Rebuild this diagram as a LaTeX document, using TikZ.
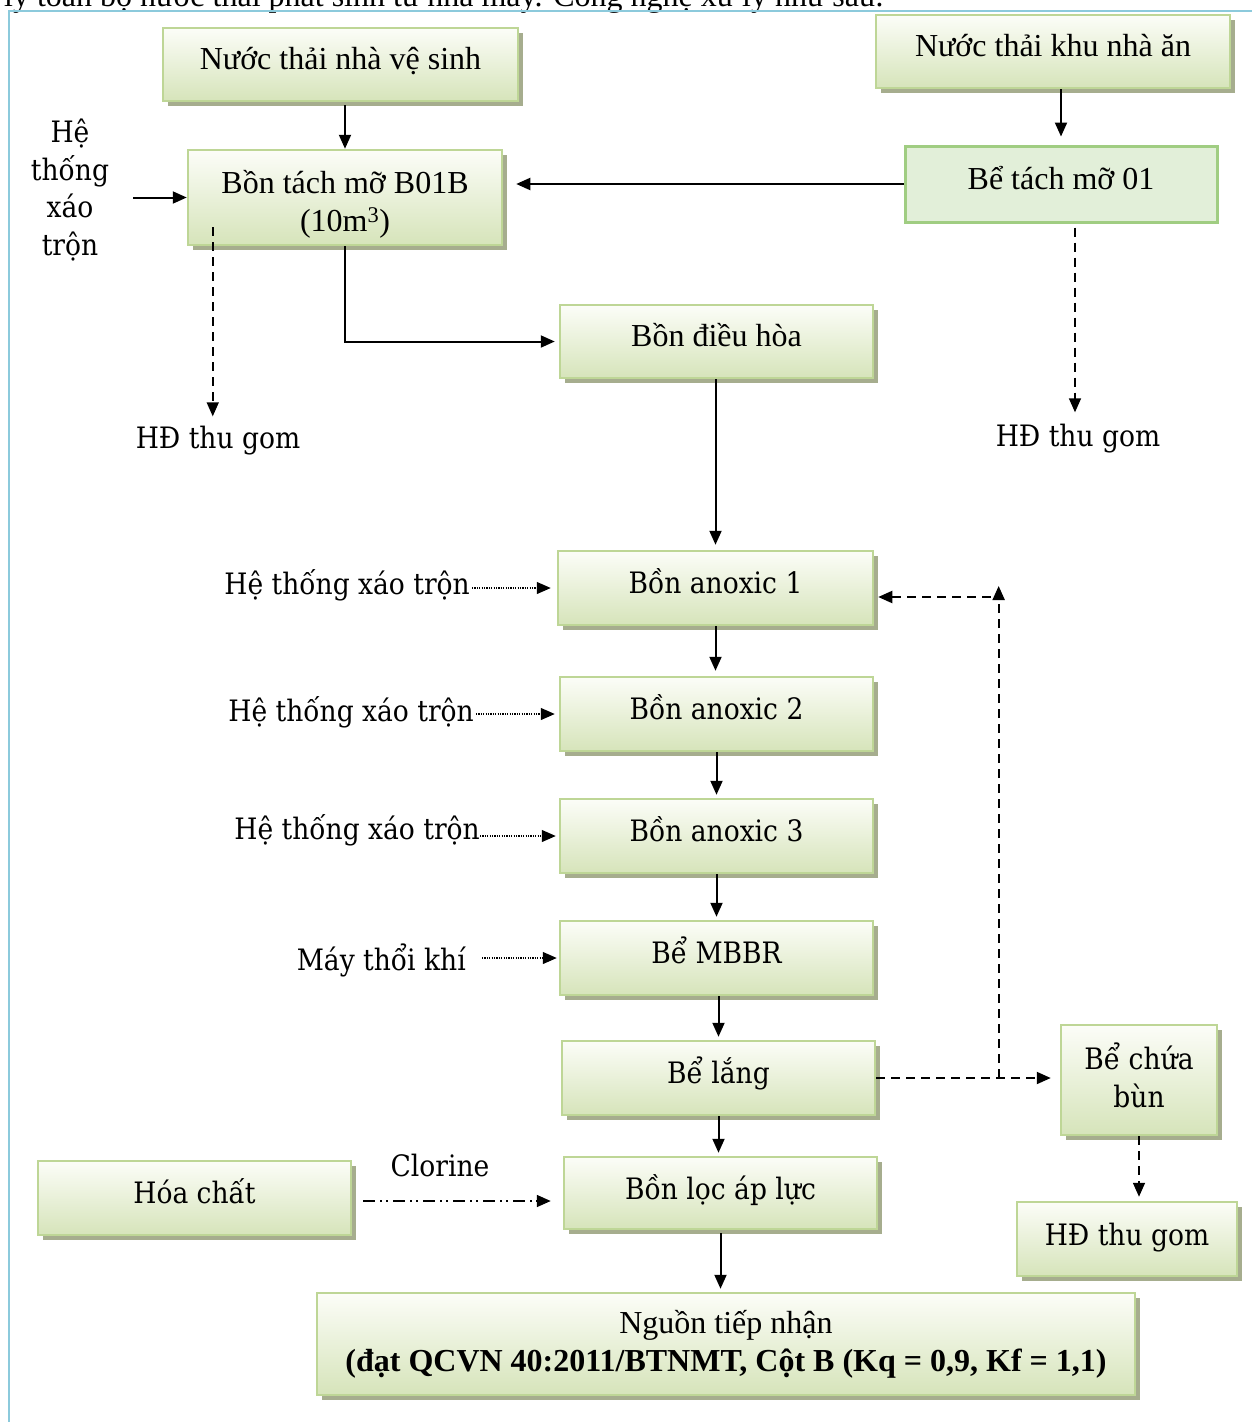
\documentclass[tikz,border=0pt]{standalone}
\usepackage{fontspec}
\setmainfont{Liberation Serif}
\newfontfamily\camfont{DejaVu Serif Condensed}
\usetikzlibrary{arrows.meta,shadows,calc}
\definecolor{framec}{RGB}{140,202,220}
\definecolor{boxline}{RGB}{190,214,150}
\definecolor{boxtop}{RGB}{252,253,248}
\definecolor{boxbot}{RGB}{214,228,186}
\definecolor{shadowc}{RGB}{166,173,142}
\definecolor{flatfill}{RGB}{226,239,217}
\definecolor{flatline}{RGB}{160,205,130}
\begin{document}
\begin{tikzpicture}[x=1pt,y=-1pt,
  tnr/.style={font=\fontsize{32}{38}\selectfont},
  cam/.style={font=\camfont\fontsize{29.5}{37.5}\selectfont},
  boxbase/.style={draw=boxline,line width=2.5pt,top color=boxtop,bottom color=boxbot,
    drop shadow={shadow xshift=5pt,shadow yshift=-5pt,fill=shadowc,opacity=1},
    inner sep=0pt,align=center},
  box/.style={boxbase,text height=20pt,text depth=10pt},
  flatbox/.style={draw=flatline,line width=3pt,fill=flatfill,inner sep=0pt,align=center,
    text height=20pt,text depth=10pt},
  lbl/.style={inner sep=0pt,align=center},
  tip/.style={-{Triangle[length=14pt,width=12pt]}},
  flow/.style={tip,line width=2pt},
  dflow/.style={tip,line width=2pt,dash pattern=on 9pt off 6pt},
  dotflow/.style={tip,line width=1.2pt,dash pattern=on 1.2pt off 1.2pt},
  ddflow/.style={tip,line width=1.6pt,dash pattern=on 12pt off 5pt on 2pt off 4pt on 2pt off 5pt},
]
\useasboundingbox (0,0) rectangle (1252,1422);
\clip (0,0) rectangle (1252,1422);

% running text above the frame
\node[tnr,anchor=base west,inner sep=0pt] (intro) at (4,6)
  {ly toàn bộ nước thải phát sinh từ nhà máy. Công nghệ xử lý như sau:};

% frame
\draw[framec,line width=2.5pt] (9,1430) -- (9,11) -- (1260,11);

% process boxes
\node[box,tnr,minimum width=355pt,minimum height=73pt] (n1) at (340.5,64.5) {Nước thải nhà vệ sinh};
\node[box,tnr,minimum width=354pt,minimum height=73pt] (n2) at (1053,51.5) {Nước thải khu nhà ăn};
\node[boxbase,tnr,minimum width=314pt,minimum height=95pt] (n3) at (345,197.5)
  {\rule{0pt}{36pt}Bồn tách mỡ B01B\\(10m\textsuperscript{3})};
\node[flatbox,tnr,minimum width=312pt,minimum height=76pt] (n4) at (1061,184) {Bể tách mỡ 01};
\node[box,tnr,minimum width=313pt,minimum height=73pt] (n5) at (716.5,341.5) {Bồn điều hòa};
\node[box,cam,minimum width=315pt,minimum height=74pt] (n6) at (715.5,588) {Bồn anoxic 1};
\node[box,cam,minimum width=313pt,minimum height=74pt] (n7) at (716.5,714) {Bồn anoxic 2};
\node[box,cam,minimum width=313pt,minimum height=74pt] (n8) at (716.5,836) {Bồn anoxic 3};
\node[box,cam,minimum width=313pt,minimum height=74pt] (n9) at (716.5,958) {Bể MBBR};
\node[box,cam,minimum width=313pt,minimum height=74pt] (n10) at (718.5,1078) {Bể lắng};
\node[box,cam,minimum width=313pt,minimum height=72pt,text height=22pt] (n11) at (720.5,1193) {Bồn lọc áp lực};
\node[box,cam,minimum width=313pt,minimum height=74pt] (n12) at (194.5,1198) {Hóa chất};
\node[boxbase,cam,minimum width=156pt,minimum height=110pt] (n13) at (1139,1080)
  {Bể chứa\\bùn\rule[-10pt]{0pt}{10pt}};
\node[box,cam,minimum width=220pt,minimum height=74pt,text height=22pt] (n14) at (1127,1239) {HĐ thu gom};
\node[boxbase,tnr,minimum width=818pt,minimum height=102pt] (n15) at (726,1344)
  {Nguồn tiếp nhận\\\textbf{(đạt QCVN 40:2011/BTNMT, Cột B (Kq = 0,9, Kf = 1,1)}};

% free labels
\node[lbl,cam] (hx0) at (70,190) {Hệ\\thống\\xáo\\trộn};
\node[lbl,cam] (hd1) at (218,441) {HĐ thu gom};
\node[lbl,cam] (hd2) at (1078,439) {HĐ thu gom};
\node[lbl,cam,anchor=east] (hx1) at (470,585) {Hệ thống xáo trộn};
\node[lbl,cam,anchor=east] (hx2) at (474,712) {Hệ thống xáo trộn};
\node[lbl,cam,anchor=east] (hx3) at (480,830) {Hệ thống xáo trộn};
\node[lbl,cam,anchor=east] (mtk) at (466,960) {Máy thổi khí};
\node[lbl,cam] (clo) at (440,1165) {Clorine};

% main flow
\draw[flow,shorten <=3pt] (n1.south -| n3.north) -- (n3.north);
\draw[flow,shorten >=8pt] (n2.south -| n4.north) -- (n4.north);
\draw[flow,shorten >=13pt] (n4.west) -- (n4.west -| n3.east);
\draw[flow,shorten <=24pt] (hx0.east |- n3.west) -- (n3.west);
\draw[flow,shorten >=4pt] (n3.south) |- (n5.west);
\draw[flow,shorten >=5pt] (n5.south -| n6.north) -- (n6.north);
\draw[flow,shorten >=5pt] (n6.south) -- (n6.south |- n7.north);
\draw[flow,shorten >=3pt] (n7.south) -- (n7.south |- n8.north);
\draw[flow,shorten >=3pt] (n8.south) -- (n8.south |- n9.north);
\draw[flow,shorten >=3pt] (n9.south -| n10.north) -- (n10.north);
\draw[flow,shorten >=3pt] (n10.south) -- (n10.south |- n11.north);
\draw[flow,shorten <=3pt,shorten >=3pt] (n11.south) -- (n11.south |- n15.north);

% grease to collection
\coordinate (g1) at ($(n3.south west)+(26,-19)$);
\draw[dflow,line width=1.5pt,shorten >=10pt] (g1) -- (g1 |- hd1.north);
\coordinate (g2) at ([xshift=14pt]n4.south);
\draw[dflow,line width=1.5pt,shorten <=4pt,shorten >=12pt] (g2) -- (g2 |- hd2.north);

% mixers and blower
\draw[dotflow,shorten <=2pt,shorten >=6pt] (hx1.east |- n6.west) -- (n6.west);
\draw[dotflow,shorten <=2pt,shorten >=4pt] (hx2.east |- n7.west) -- (n7.west);
\draw[dotflow,shorten >=3pt] (hx3.east |- n8.west) -- (n8.west);
\draw[dotflow,shorten <=16pt,shorten >=2pt] (mtk.east |- n9.west) -- (n9.west);

% chlorine dosing
\coordinate (c1) at ([yshift=-8pt]n11.west);
\draw[ddflow,shorten <=11pt,shorten >=12pt] (n12.east |- c1) -- (c1);

% sludge line and return
\draw[dflow,shorten >=9pt] (n10.east) -- (n10.east -| n13.west);
\coordinate (rj) at ($(n10.east)!0.667!(n10.east -| n13.west)$);
\coordinate (rt) at (rj |- n6.east);
\draw[dflow] (rj) -- ([yshift=2pt]rt);
\draw[dflow,shorten <=8pt,shorten >=4pt] ([yshift=-9pt]rt) -- ([yshift=-9pt]n6.east);
\draw[dflow,line width=1.5pt,shorten >=4pt] (n13.south) -- (n13.south |- n14.north);
\end{tikzpicture}
\end{document}
